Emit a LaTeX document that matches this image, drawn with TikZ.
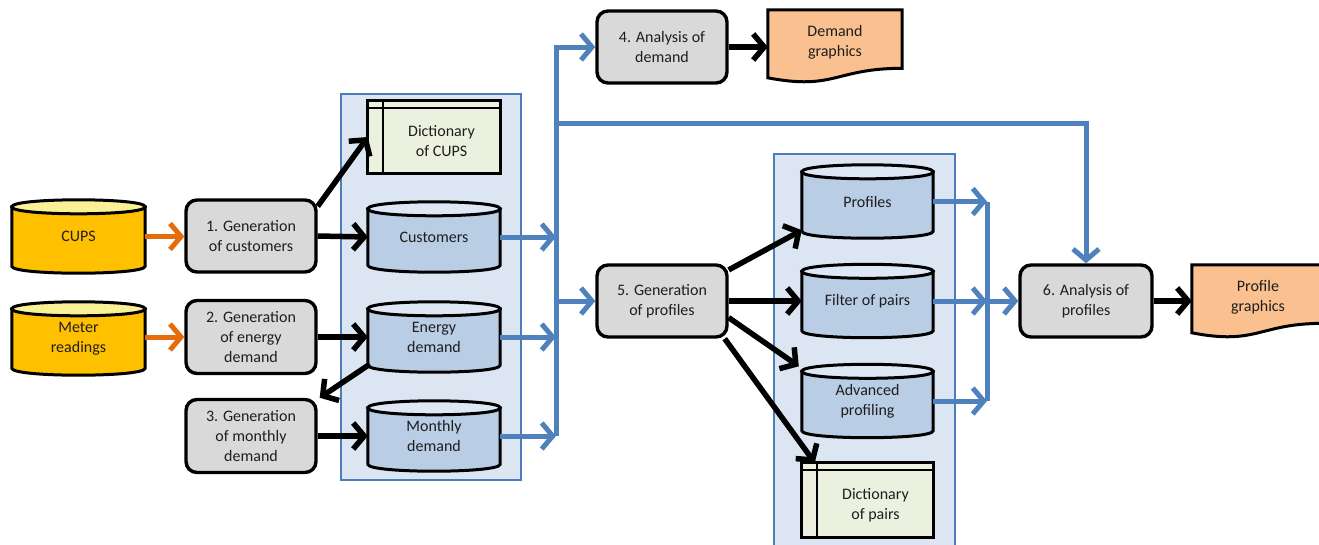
\documentclass[tikz,border=0pt]{standalone}
\usepackage{fontspec}
\setmainfont{Carlito}
\usetikzlibrary{arrows.meta,calc}
\definecolor{txtc}{RGB}{30,30,30}
\definecolor{boxgray}{RGB}{217,217,217}
\definecolor{cupsbody}{RGB}{255,192,0}
\definecolor{cupsend}{RGB}{250,240,150}
\definecolor{cylbody}{RGB}{185,205,229}
\definecolor{cylend}{RGB}{222,232,244}
\definecolor{contfill}{RGB}{220,230,242}
\definecolor{contline}{RGB}{74,126,187}
\definecolor{lineblue}{RGB}{79,129,189}
\definecolor{arrorange}{RGB}{228,108,10}
\definecolor{docfill}{RGB}{250,192,144}
\definecolor{dictfill}{RGB}{235,241,222}
\pgfdeclarelayer{bg}
\pgfdeclarelayer{shapes}
\pgfsetlayers{bg,shapes,main}
\newcommand\lbl{\fontsize{16pt}{20pt}\selectfont}
\newcommand\cylshape[3]{%
\begin{pgfonlayer}{shapes}
\path[draw=black,line width=3pt,fill=#2] let \p1=(#1.north west), \p2=(#1.south east) in
 (\x1,\y1-7pt) -- (\x1,\y2+7pt) .. controls (\x1,\y2-2.33pt) and (\x2,\y2-2.33pt) .. (\x2,\y2+7pt) -- (\x2,\y1-7pt) -- cycle;
\path[draw=black,line width=3pt,fill=#3] let \p1=(#1.north west), \p2=(#1.south east) in
 (\x1,\y1-7pt) .. controls (\x1,\y1+2.33pt) and (\x2,\y1+2.33pt) .. (\x2,\y1-7pt) .. controls (\x2,\y1-16.33pt) and (\x1,\y1-16.33pt) .. (\x1,\y1-7pt) -- cycle;
\end{pgfonlayer}}
\newcommand\docshape[1]{%
\begin{pgfonlayer}{shapes}
\path[draw=black,line width=3pt,fill=docfill] let \p1=(#1.north west), \p2=(#1.north east), \p3=(#1.north) in
 (\x1,\y1) -- (\x2,\y1) -- (\x2,\y1-58.5pt) .. controls (\x3,\y1-58.5pt) and (\x3,\y1-80.8pt) .. (\x1,\y1-68pt) -- cycle;
\end{pgfonlayer}}
\newcommand\dictshape[1]{%
\begin{pgfonlayer}{shapes}
\path[draw=black,line width=3pt,fill=dictfill] (#1.north west) rectangle (#1.south east);
\draw[black,line width=2.6pt] let \p1=(#1.north west), \p2=(#1.south east) in (\x1,\y1-7pt) -- (\x2,\y1-7pt) (\x1+15pt,\y1) -- (\x1+15pt,\y2);
\end{pgfonlayer}}
\tikzset{
 txt/.style={font=\lbl, text=txtc, align=center, inner sep=0pt},
 proc/.style={txt, draw=black, line width=3.4pt, fill=boxgray, rounded corners=11pt, minimum width=130pt, minimum height=72pt},
 cylY/.style={txt, minimum width=133pt, minimum height=73pt},
 cylB/.style={txt, minimum width=132pt, minimum height=70pt},
 cylC/.style={txt, minimum width=131pt, minimum height=73pt},
 doc/.style={txt, minimum width=134pt, minimum height=64pt},
 dict/.style={inner sep=0pt},
 cont/.style={draw=contline, fill=contfill, line width=2.8pt, inner sep=0pt},
 barb/.style={-{Straight Barb[length=11pt,width=26pt]}},
 blk/.style={draw=black, line width=5.5pt, barb},
 blu/.style={draw=lineblue, line width=5pt, barb},
 bluln/.style={draw=lineblue, line width=5pt},
 org/.style={draw=arrorange, line width=5pt, barb}
}
\begin{document}
\begin{tikzpicture}[x=1pt,y=-1pt]
\useasboundingbox (0,0) rectangle (1319,544);
\clip (0,0) rectangle (1319,544);
\begin{pgfonlayer}{bg}
\fill[white] (0,0) rectangle (1319,544);
\node[cont, minimum width=180pt, minimum height=386pt] (c1) at (431,287) {};
\node[cont, minimum width=181pt, minimum height=394pt] (c2) at (864.5,351) {};
\end{pgfonlayer}
% sources
\node[cylY] (cups) at (78.5,236.5) {CUPS};
\node[cylY] (meter) at (78.5,338.5) {Meter\\readings};
\cylshape{cups}{cupsbody}{cupsend}
\cylshape{meter}{cupsbody}{cupsend}
% processes
\node[proc] (b1) at (251,236) {1. Generation\\of customers};
\node[proc, minimum height=73pt] (b2) at (251,337) {2. Generation\\of energy\\demand};
\node[proc, minimum height=73pt] (b3) at (251,436) {3. Generation\\of monthly\\demand};
\node[proc] (b4) at (662,47) {4. Analysis of\\demand};
\node[proc] (b5) at (662,301) {5. Generation\\of profiles};
\node[proc, minimum width=132pt] (b6) at (1086,301) {6. Analysis of\\profiles};
% container 1
\node[dict, minimum width=132pt, minimum height=72pt] (dictA) at (434,137) {};
\dictshape{dictA}
\node[txt] (dictAtxt) at (441.5,141) {Dictionary\\of CUPS};
\node[cylB] (cust) at (434,237) {Customers};
\node[cylB] (energy) at (434,337) {Energy\\demand};
\node[cylB] (monthly) at (434,436) {Monthly\\demand};
\cylshape{cust}{cylbody}{cylend}
\cylshape{energy}{cylbody}{cylend}
\cylshape{monthly}{cylbody}{cylend}
% container 2
\node[cylC] (prof) at (867.5,201.5) {Profiles};
\node[cylC] (filt) at (867.5,301) {Filter of pairs};
\node[cylC] (adv) at (867.5,401) {Advanced\\profiling};
\cylshape{prof}{cylbody}{cylend}
\cylshape{filt}{cylbody}{cylend}
\cylshape{adv}{cylbody}{cylend}
\node[dict, minimum width=131pt, minimum height=74pt] (dictB) at (867.5,500) {};
\dictshape{dictB}
\node[txt] (dictBtxt) at (875.5,505) {Dictionary\\of pairs};
% documents
\node[doc] (dgraph) at (835,42) {Demand\\graphics};
\docshape{dgraph}
\node[doc, minimum width=132pt] (pgraph) at (1258,297) {Profile\\graphics};
\docshape{pgraph}
% orange arrows
\draw[org] (cups.east) -- (cups.east -| b1.west);
\draw[org] (b2.west -| meter.east) -- (b2.west);
% black arrows
\draw[blk] (b1.24) -- (dictA.west);
\draw[blk] (b1.east) -- (cust.west);
\draw[blk] (b2.east) -- (energy.west);
\draw[blk] ($(energy.south west)+(2,-8)$) -- ($(b3.north east)+(2,0)$);
\draw[blk] (b3.east) -- (monthly.west);
\draw[blk] (b4.east) -- (b4.east -| dgraph.west);
\draw[blk] (b5.25) -- ($(prof.south west)+(0,-8)$);
\draw[blk] (b5.east) -- (filt.west);
\draw[blk] (b5.-14) -- ($(adv.north west)+(-3,2)$);
\draw[blk] ($(b5.south east)+(-4,0)$) -- ($(dictB.north west)+(13,0)$);
\draw[blk] (b6.east) -- (b6.east -| pgraph.west);
% blue bus 1
\coordinate (busA) at (556,47);
\coordinate (busAb) at (556,436);
\coordinate (busT) at (556,123);
\draw[blu] (busAb) -- (busA) -- (b4.west);
\draw[blu] (cust.east) -- (cust.east -| busA);
\draw[blu] (energy.east) -- (energy.east -| busA);
\draw[blu] (monthly.east) -- (monthly.east -| busA);
\draw[blu] (b5.west -| busA) -- (b5.west);
\draw[blu] (busT) -- (busT -| b6.north) -- (b6.north);
% blue bus 2
\coordinate (busB) at (987,201.5);
\coordinate (busBb) at (987,401);
\draw[bluln] (busB) -- (busBb);
\draw[blu] (prof.east) -- (prof.east -| busB);
\draw[blu] (filt.east) -- (filt.east -| busB);
\draw[blu] (adv.east) -- (adv.east -| busB);
\draw[blu] (b6.west -| busB) -- (b6.west);
\end{tikzpicture}
\end{document}
